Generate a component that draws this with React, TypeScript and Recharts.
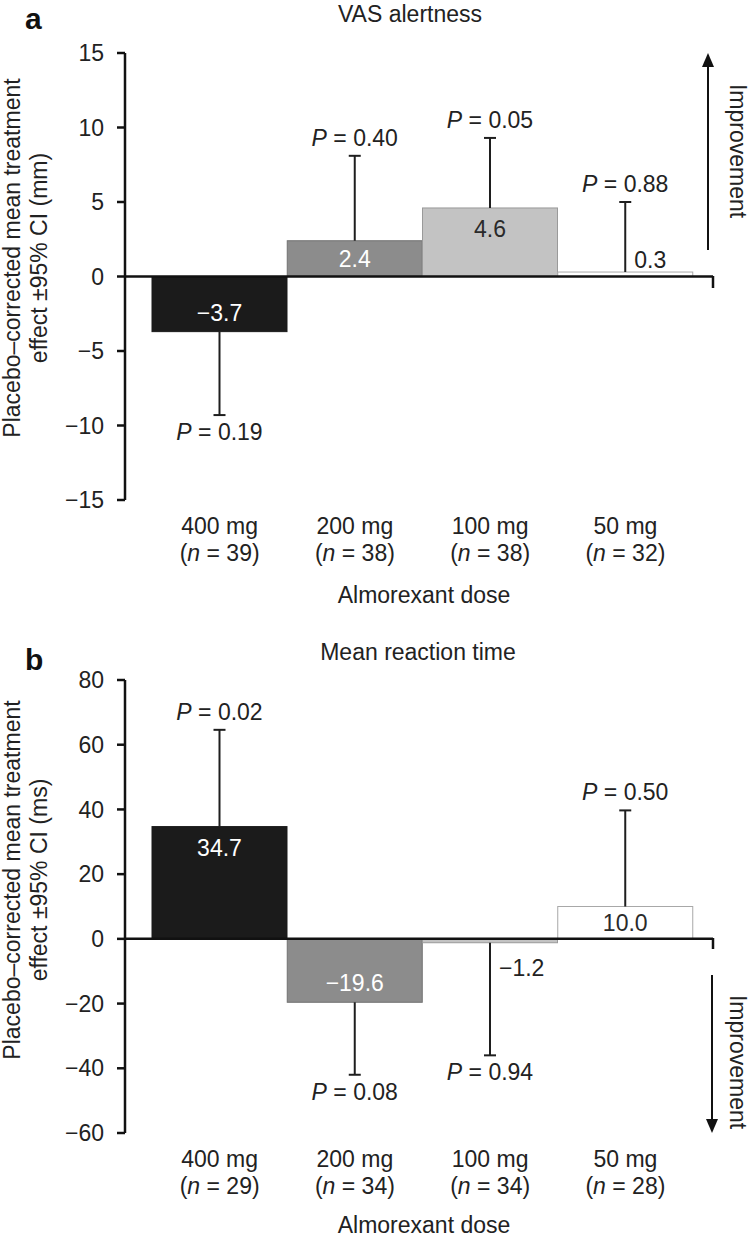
import { BarChart, Bar, XAxis, YAxis, ReferenceLine } from "recharts";

const doses = ["400 mg", "200 mg", "100 mg", "50 mg"];

// panel a: VAS alertness
const vasN = [39, 38, 38, 32];
const vasMean = [-3.7, 2.4, 4.6, 0.3];
const vasCiEnd = [-9.3, 8.1, 9.3, 5.0];
const vasP = ["0.19", "0.40", "0.05", "0.88"];
const vasTicks = [15, 10, 5, 0, -5, -10, -15];

// panel b: mean reaction time
const rtN = [29, 34, 34, 28];
const rtMean = [34.7, -19.6, -1.2, 10.0];
const rtCiEnd = [64.6, -42.0, -36.0, 39.7];
const rtP = ["0.02", "0.08", "0.94", "0.50"];
const rtTicks = [80, 60, 40, 20, 0, -20, -40, -60];

const FILLS = ["#1b1b1b", "#8c8c8c", "#c3c3c3", "#ffffff"];
const STROKES = ["#1b1b1b", "#727272", "#9a9a9a", "#a8a8a8"];
const LABEL_COLORS = ["#ffffff", "#ffffff", "#2a2a2a", "#2a2a2a"];
const FONT = '"Liberation Sans", Arial, Helvetica, sans-serif';
const INK = "#1e1e1e";

const minus = (v: number, digits: number) =>
  v < 0 ? "\u2212" + Math.abs(v).toFixed(digits) : v.toFixed(digits);

const buildRows = (n: number[], mean: number[], ciEnd: number[], p: string[]) =>
  doses.map((dose, i) => ({
    dose,
    n: n[i],
    mean: mean[i],
    whisker: +(ciEnd[i] - mean[i]).toFixed(2),
    p: p[i],
  }));

const vasRows = buildRows(vasN, vasMean, vasCiEnd, vasP);
const rtRows = buildRows(rtN, rtMean, rtCiEnd, rtP);

function MeanShape(props: any) {
  const { x, y, width, height, index, payload } = props;
  const top = Math.min(y, y + height);
  const h = Math.abs(height);
  const bottom = top + h;
  const cx = x + width / 2;
  const pos = payload.mean >= 0;
  const text = minus(payload.mean, 1);
  let label;
  if (h < 20) {
    label = (
      <text x={cx + 9} y={pos ? top - 12 : bottom + 25} textAnchor="start"
        dominantBaseline="central" fill="#222" fontSize={23} fontFamily={FONT}>
        {text}
      </text>
    );
  } else {
    const ly = h > 45 ? (pos ? top + 21 : bottom - 19) : top + h / 2;
    label = (
      <text x={cx} y={ly} textAnchor="middle" dominantBaseline="central"
        fill={LABEL_COLORS[index]} fontSize={23} fontFamily={FONT}>
        {text}
      </text>
    );
  }
  return (
    <g>
      <rect x={x} y={top} width={width} height={h} fill={FILLS[index]}
        stroke={STROKES[index]} strokeWidth={1} />
      {label}
    </g>
  );
}

function WhiskerShape(props: any) {
  const { x, y, width, height, payload } = props;
  const top = Math.min(y, y + height);
  const bottom = Math.max(y, y + height);
  const cx = x + width / 2;
  const up = payload.mean >= 0;
  const capY = up ? top : bottom;
  const baseY = up ? bottom : top;
  return (
    <g>
      <line x1={cx} x2={cx} y1={baseY} y2={capY} stroke={INK} strokeWidth={2} />
      <line x1={cx - 6} x2={cx + 6} y1={capY} y2={capY} stroke={INK} strokeWidth={2} />
      <text x={cx} y={up ? capY - 18 : capY + 17} textAnchor="middle"
        dominantBaseline="central" fill="#222" fontSize={23} fontFamily={FONT}>
        <tspan fontStyle="italic">P</tspan>
        {" = " + payload.p}
      </text>
    </g>
  );
}

function DoseTick(props: any) {
  const { x, y, payload, rows } = props;
  const n = rows[payload.index]?.n;
  return (
    <g>
      <text x={x} y={y + 26} textAnchor="middle" dominantBaseline="central"
        fill="#222" fontSize={23} fontFamily={FONT}>
        {payload.value}
      </text>
      <text x={x} y={y + 53} textAnchor="middle" dominantBaseline="central"
        fill="#222" fontSize={23} fontFamily={FONT}>
        {"("}
        <tspan fontStyle="italic">n</tspan>
        {` = ${n})`}
      </text>
    </g>
  );
}

function Panel({ rows, ticks, domain, top, bottom, axisHeight }: any) {
  return (
    <BarChart width={750} height={620} data={rows} stackOffset="sign"
      barCategoryGap={0} margin={{ top, right: 37, bottom, left: 0 }}>
      <XAxis dataKey="dose" padding={{ left: 27, right: 20 }} axisLine={false}
        tickLine={false} tickSize={0} tickMargin={0} height={axisHeight} interval={0}
        tick={(p: any) => <DoseTick {...p} rows={rows} />} />
      <YAxis type="number" domain={domain} ticks={ticks} width={125} interval={0}
        allowDataOverflow
        axisLine={{ stroke: "#111", strokeWidth: 2.5 }}
        tickLine={{ stroke: "#111", strokeWidth: 2.5 }}
        tickSize={8} tickMargin={13}
        tick={{ fill: "#222", fontSize: 23, fontFamily: FONT }}
        tickFormatter={(v: number) => minus(v, 0)} />
      <Bar dataKey="mean" stackId="s" shape={MeanShape} isAnimationActive={false} />
      <Bar dataKey="whisker" stackId="s" shape={WhiskerShape} isAnimationActive={false} />
      <ReferenceLine y={0} stroke="#111" strokeWidth={2.5} />
    </BarChart>
  );
}

function YLabel({ cy, unit }: { cy: number; unit: string }) {
  return (
    <g fontSize={23} fontFamily={FONT} fill="#222">
      <text transform={`translate(20,${cy}) rotate(-90)`} textAnchor="middle">
        Placebo–corrected mean treatment
      </text>
      <text transform={`translate(47,${cy}) rotate(-90)`} textAnchor="middle">
        {`effect ±95% CI (${unit})`}
      </text>
    </g>
  );
}

const overlay: React.CSSProperties = {
  position: "absolute", left: 0, top: 0, pointerEvents: "none",
};

export default function App() {
  return (
    <div style={{ position: "absolute", left: 0, top: 0, width: 750, height: 1240, background: "#fff" }}>
      <div style={{ position: "absolute", left: 0, top: 0, width: 750, height: 620 }}>
        <Panel rows={vasRows} ticks={vasTicks} domain={[-15, 15]} top={53} bottom={20} axisHeight={100} />
        <svg width={750} height={620} style={overlay}>
          <text x={25} y={29} fontSize={30} fontWeight="bold" fontFamily={FONT} fill="#111">a</text>
          <text x={410} y={14} textAnchor="middle" dominantBaseline="central" fontSize={23} fontFamily={FONT} fill="#222">VAS alertness</text>
          <YLabel cy={258} unit="mm" />
          <text x={424} y={595} textAnchor="middle" dominantBaseline="central" fontSize={23} fontFamily={FONT} fill="#222">Almorexant dose</text>
          <line x1={713} x2={713} y1={276} y2={288} stroke="#111" strokeWidth={2.5} />
          <line x1={708} x2={708} y1={250} y2={64} stroke="#111" strokeWidth={2} />
          <polygon points="708,53 702,67 714,67" fill="#111" />
          <text transform="translate(730,151) rotate(90)" textAnchor="middle" fontSize={23} fontFamily={FONT} fill="#222">Improvement</text>
        </svg>
      </div>
      <div style={{ position: "absolute", left: 0, top: 620, width: 750, height: 620 }}>
        <Panel rows={rtRows} ticks={rtTicks} domain={[-60, 80]} top={60} bottom={17} axisHeight={90} />
        <svg width={750} height={620} style={overlay}>
          <text x={25} y={50} fontSize={30} fontWeight="bold" fontFamily={FONT} fill="#111">b</text>
          <text x={418} y={32} textAnchor="middle" dominantBaseline="central" fontSize={23} fontFamily={FONT} fill="#222">Mean reaction time</text>
          <YLabel cy={260} unit="ms" />
          <text x={424} y={605} textAnchor="middle" dominantBaseline="central" fontSize={23} fontFamily={FONT} fill="#222">Almorexant dose</text>
          <line x1={713} x2={713} y1={318} y2={329} stroke="#111" strokeWidth={2.5} />
          <line x1={712} x2={712} y1={355} y2={502} stroke="#111" strokeWidth={2} />
          <polygon points="712,513 706,499 718,499" fill="#111" />
          <text transform="translate(730,442) rotate(90)" textAnchor="middle" fontSize={23} fontFamily={FONT} fill="#222">Improvement</text>
        </svg>
      </div>
    </div>
  );
}
